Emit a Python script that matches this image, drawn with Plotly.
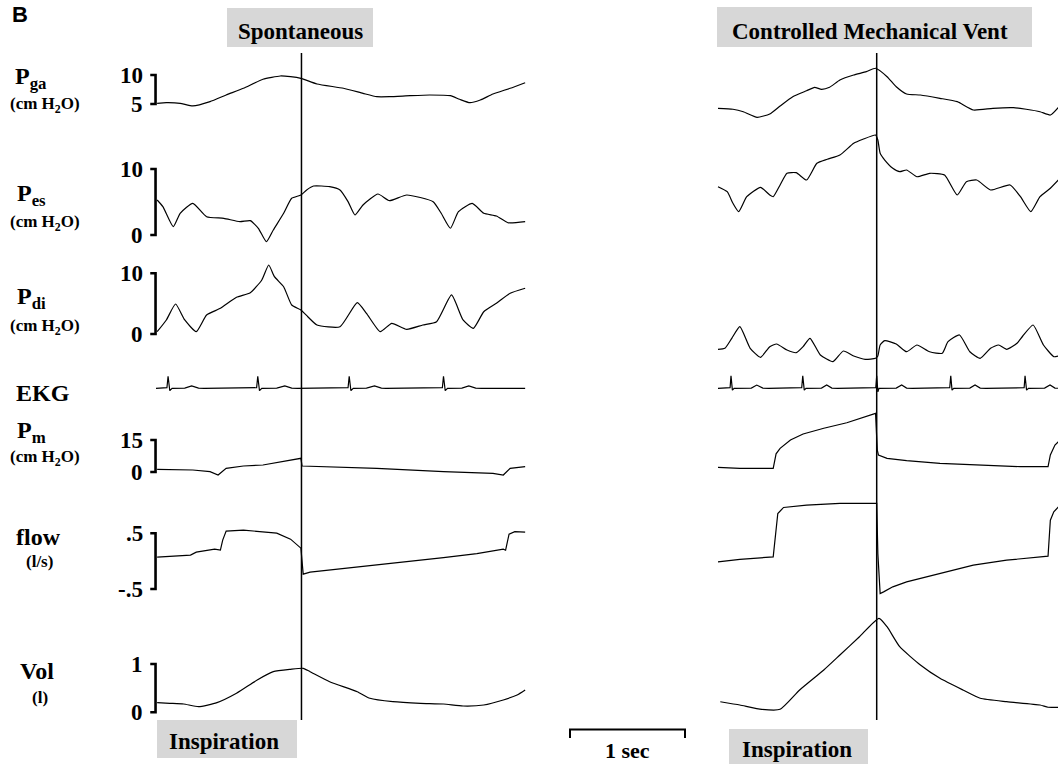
import plotly.graph_objects as go

W, H = 1058, 764

# ---------------- recorded traces (time in s, values in channel units) ----------------
# Spontaneous breathing
spont_pga_t = [0.01, 0.09, 0.21, 0.32, 0.47, 0.61, 0.76, 0.93, 1.08, 1.17, 1.26, 1.40, 1.63, 1.80,
               1.92, 2.03, 2.21, 2.38, 2.56, 2.64, 2.73, 2.82, 2.93, 3.08, 3.21]
spont_pga = [5.12, 5.22, 5.12, 4.66, 5.40, 6.55, 7.71, 9.26, 9.83, 9.71, 9.43, 8.45, 7.71, 6.84,
             6.26, 6.26, 6.43, 6.55, 6.43, 5.81, 5.22, 5.69, 6.72, 7.71, 8.67]

spont_pes_t = [0.01, 0.06, 0.15, 0.21, 0.32, 0.44, 0.59, 0.73, 0.82, 0.89, 0.96, 1.02, 1.11, 1.18,
               1.26, 1.31, 1.37, 1.51, 1.60, 1.67, 1.73, 1.80, 1.93, 2.03, 2.18, 2.41, 2.48, 2.56,
               2.63, 2.75, 2.85, 2.96, 3.06, 3.21]
spont_pes = [5.30, 4.29, 1.26, 3.29, 4.80, 2.77, 2.53, 2.02, 2.17, 1.02, -1.02, 0.76, 3.29, 5.56,
             6.06, 6.82, 7.42, 7.32, 6.82, 5.05, 3.03, 4.55, 6.21, 5.20, 6.06, 5.05, 3.29, 1.02,
             3.53, 4.80, 3.29, 2.88, 1.86, 2.02]

spont_pdi_t = [0.01, 0.09, 0.17, 0.25, 0.35, 0.44, 0.56, 0.70, 0.82, 0.92, 0.98, 1.03, 1.11, 1.18,
               1.26, 1.32, 1.40, 1.60, 1.75, 1.83, 1.95, 2.05, 2.18, 2.32, 2.44, 2.57, 2.67, 2.76,
               2.85, 2.96, 3.08, 3.21]
spont_pdi = [0.38, 2.31, 4.94, 2.31, 0.38, 3.13, 4.23, 6.05, 6.80, 8.90, 11.37, 9.44, 7.79, 4.78,
             3.95, 2.85, 1.48, 1.20, 5.16, 3.41, 0.38, 1.76, 0.77, 1.48, 2.03, 6.43, 2.31, 0.94,
             3.67, 5.06, 6.71, 7.53]

spont_ekg_t = [0.00, 0.08, 0.095, 0.105, 0.12, 0.14, 0.25, 0.31, 0.37, 0.42,
               0.86, 0.875, 0.885, 0.90, 0.92, 1.05, 1.12, 1.18, 1.23,
               1.66, 1.67, 1.68, 1.695, 1.715, 1.83, 1.90, 1.96, 2.00,
               2.48, 2.49, 2.50, 2.515, 2.535, 2.66, 2.72, 2.78, 2.83, 3.21]
spont_ekg = [0.0, 0.0, 0.05, 1.0, -0.2, 0.0, 0.02, 0.2, 0.02, 0.0,
             0.0, 0.05, 1.0, -0.2, 0.0, 0.02, 0.2, 0.02, 0.0,
             0.0, 0.05, 1.0, -0.2, 0.0, 0.02, 0.2, 0.02, 0.0,
             0.0, 0.05, 1.0, -0.2, 0.0, 0.02, 0.2, 0.02, 0.0, 0.0]

spont_pm_t = [0.01, 0.32, 0.47, 0.54, 0.61, 0.76, 0.93, 1.11, 1.26, 1.27, 1.48, 1.92, 2.50, 2.93,
              3.02, 3.08, 3.21]
spont_pm = [1.27, 0.94, 0.14, -1.41, 1.73, 2.81, 3.28, 4.83, 6.42, 2.81, 2.48, 1.73, 0.14, -0.61,
            -1.41, 1.73, 2.48]

spont_flow_t = [0.01, 0.18, 0.30, 0.35, 0.51, 0.56, 0.58, 0.61, 0.76, 1.05, 1.17, 1.26, 1.28, 1.34,
                1.63, 1.92, 2.21, 2.50, 2.79, 3.02, 3.04, 3.07, 3.12, 3.21]
spont_flow = [0.072, 0.090, 0.108, 0.162, 0.215, 0.197, 0.377, 0.539, 0.557, 0.503, 0.395, 0.233,
              -0.233, -0.197, -0.135, -0.063, 0.0, 0.063, 0.135, 0.215, 0.197, 0.485, 0.530, 0.521]

spont_vol_t = [0.01, 0.12, 0.24, 0.37, 0.53, 0.70, 0.88, 1.02, 1.17, 1.28, 1.34, 1.51, 1.75, 1.86,
               2.06, 2.30, 2.50, 2.67, 2.85, 3.02, 3.14, 3.21]
spont_vol = [0.199, 0.186, 0.172, 0.116, 0.199, 0.393, 0.669, 0.841, 0.890, 0.911, 0.841, 0.634,
             0.427, 0.290, 0.219, 0.186, 0.172, 0.130, 0.151, 0.255, 0.358, 0.462]

# Controlled mechanical ventilation
cmv_pga_t = [0.00, 0.13, 0.22, 0.34, 0.45, 0.54, 0.65, 0.77, 0.84, 0.90, 0.97, 1.06, 1.18, 1.29,
             1.37, 1.47, 1.55, 1.64, 1.76, 1.93, 2.08, 2.22, 2.39, 2.57, 2.68, 2.80, 2.89, 2.96]
cmv_pga = [4.26, 4.09, 3.67, 2.71, 3.28, 4.66, 6.26, 7.29, 7.88, 7.53, 7.88, 9.14, 10.0, 10.57,
           11.16, 9.71, 7.98, 6.72, 6.55, 5.98, 5.40, 3.97, 4.26, 4.36, 4.09, 3.67, 3.10, 4.43]

cmv_pes_t = [0.00, 0.08, 0.13, 0.18, 0.25, 0.37, 0.45, 0.48, 0.54, 0.60, 0.68, 0.77, 0.86, 0.95,
             1.06, 1.18, 1.26, 1.37, 1.39, 1.41, 1.45, 1.52, 1.58, 1.64, 1.73, 1.84, 1.97, 2.08,
             2.16, 2.25, 2.37, 2.54, 2.63, 2.72, 2.80, 2.89, 2.96]
cmv_pes = [7.32, 6.56, 4.80, 3.53, 5.80, 7.23, 6.06, 5.80, 7.58, 9.35, 9.44, 8.33, 10.86, 11.47,
           12.12, 13.89, 14.50, 15.15, 14.39, 12.38, 11.36, 10.11, 9.59, 9.85, 8.83, 9.35, 9.09,
           6.06, 8.08, 8.33, 6.82, 7.58, 5.80, 3.53, 5.80, 7.08, 8.33]

cmv_pdi_t = [0.00, 0.06, 0.12, 0.19, 0.28, 0.37, 0.45, 0.51, 0.60, 0.68, 0.74, 0.80, 0.89, 1.00,
             1.09, 1.18, 1.28, 1.37, 1.39, 1.41, 1.45, 1.55, 1.64, 1.73, 1.84, 1.95, 2.00, 2.10,
             2.19, 2.28, 2.37, 2.44, 2.51, 2.60, 2.65, 2.74, 2.83, 2.92, 2.96]
cmv_pdi = [-2.52, -2.36, -0.71, 1.20, -2.36, -3.84, -2.09, -1.65, -2.64, -3.08, -2.09, -0.71,
           -3.46, -4.56, -2.80, -3.62, -4.17, -4.00, -3.62, -1.81, -1.10, -1.65, -2.92, -1.81,
           -2.92, -3.18, -1.27, -0.16, -2.92, -4.00, -2.36, -1.81, -2.52, -1.53, -0.33, 1.48,
           -1.81, -3.74, -3.62]

cmv_ekg_t = [0.00, 0.095, 0.105, 0.113, 0.125, 0.14, 0.29, 0.337, 0.39, 0.44,
             0.72, 0.728, 0.737, 0.75, 0.765, 0.90, 0.945, 0.99, 1.04,
             1.365, 1.372, 1.38, 1.39, 1.40, 1.55, 1.597, 1.64, 1.69,
             2.005, 2.015, 2.024, 2.035, 2.05, 2.19, 2.235, 2.28, 2.33,
             2.655, 2.662, 2.67, 2.683, 2.70, 2.84, 2.887, 2.93, 2.96]
cmv_ekg = [0.0, 0.0, 0.05, 1.05, -0.15, 0.0, 0.02, 0.27, 0.02, 0.0,
           0.0, 0.05, 1.05, -0.15, 0.0, 0.02, 0.27, 0.02, 0.0,
           0.0, 0.05, 1.05, -0.3, 0.0, 0.02, 0.27, 0.02, 0.0,
           0.0, 0.05, 1.05, -0.15, 0.0, 0.02, 0.27, 0.02, 0.0,
           0.0, 0.05, 1.05, -0.15, 0.0, 0.02, 0.27, 0.02, 0.0]

cmv_pm_t = [0.00, 0.19, 0.48, 0.50, 0.505, 0.54, 0.63, 0.74, 0.92, 1.12, 1.35, 1.37, 1.385, 1.395,
            1.47, 1.64, 1.93, 2.22, 2.63, 2.87, 2.89, 2.93, 2.96]
cmv_pm = [2.20, 1.73, 1.73, 6.42, 8.5, 11.11, 15.0, 17.8, 20.5, 23.1, 27.2, 27.5, 10.3, 7.97,
          6.42, 5.30, 4.08, 3.28, 2.48, 2.48, 7.97, 12.66, 14.2]

cmv_flow_t = [0.00, 0.19, 0.48, 0.50, 0.52, 0.57, 0.77, 1.06, 1.37, 1.38, 1.39, 1.41, 1.44, 1.52,
              1.64, 1.93, 2.22, 2.51, 2.87, 2.89, 2.92, 2.96]
cmv_flow = [-0.013, 0.031, 0.077, 0.436, 0.856, 0.964, 1.005, 1.036, 1.047, 1.036, 0.138, -0.580,
            -0.551, -0.461, -0.372, -0.221, -0.072, 0.018, 0.090, 0.736, 0.885, 0.975]

cmv_vol_t = [0.02, 0.19, 0.38, 0.54, 0.71, 0.92, 1.06, 1.23, 1.40, 1.47, 1.58, 1.76, 1.93, 2.13,
             2.28, 2.51, 2.80, 2.87, 2.96]
cmv_vol = [0.219, 0.151, 0.062, 0.062, 0.462, 0.876, 1.186, 1.565, 1.946, 1.772, 1.358, 0.979,
           0.704, 0.462, 0.290, 0.219, 0.151, 0.104, 0.104]

# end of inspiration marker for each mode (s)
insp_end = [1.265, 1.38]
scale_bar_s = 1.0

# ---------------- channel definitions ----------------
channel_names = ["Pga", "Pes", "Pdi", "EKG", "Pm", "flow", "Vol"]
channel_labels = ["P<sub>ga</sub>", "P<sub>es</sub>", "P<sub>di</sub>", "EKG",
                  "P<sub>m</sub>", "flow", "Vol"]
channel_units = ["(cm H<sub>2</sub>O)", "(cm H<sub>2</sub>O)", "(cm H<sub>2</sub>O)", "",
                 "(cm H<sub>2</sub>O)", "(l/s)", "(l)"]
scale_top = [10, 10, 10, 1, 15, 0.5, 1]
scale_bottom = [5, 0, 0, 0, 0, -0.5, 0]
scale_top_text = ["10", "10", "10", None, "15", ".5", "1"]
scale_bottom_text = ["5", "0", "0", None, "0", "-.5", "0"]
# smoothly varying pressure / volume signals are drawn as splines
smooth = [True, True, True, False, False, False, True]

spont = [(spont_pga_t, spont_pga), (spont_pes_t, spont_pes), (spont_pdi_t, spont_pdi),
         (spont_ekg_t, spont_ekg), (spont_pm_t, spont_pm), (spont_flow_t, spont_flow),
         (spont_vol_t, spont_vol)]
cmv = [(cmv_pga_t, cmv_pga), (cmv_pes_t, cmv_pes), (cmv_pdi_t, cmv_pdi),
       (cmv_ekg_t, cmv_ekg), (cmv_pm_t, cmv_pm), (cmv_flow_t, cmv_flow),
       (cmv_vol_t, cmv_vol)]

# ---------------- page geometry (pixels) ----------------
PX_PER_S = 115.0
# pixel rows of the top / bottom scale marks, and the band reserved for each strip
tick_px = [(75, 104), (169, 235), (273.3, 334), (376.3, 388.3), (440, 472), (533.3, 589),
           (664, 712.3)]
band_px = [(55, 125), (126, 250), (251, 368), (369, 400), (401, 490), (491, 600), (601, 718)]
label_px = [(31, 78), (31, 195), (31, 298), (43, 393), (31, 432), (38, 537), (37, 671)]
unit_px = [(45, 105), (45, 223), (45, 327), None, (45, 458), (39, 561), (40, 697)]

SERIF = "Liberation Serif, Times New Roman, serif"


def px2paper_x(px):
    return px / W


def px2paper_y(py):
    return 1 - py / H


fig = go.Figure()

left_x0, left_x1, left_t0 = 100, 526, 156
right_x0, right_x1, right_t0 = 560, 1058, 718
layout = dict(
    xaxis=dict(domain=[px2paper_x(left_x0), px2paper_x(left_x1)],
               range=[-(left_t0 - left_x0) / PX_PER_S, (left_x1 - left_t0) / PX_PER_S],
               visible=False, fixedrange=True),
    xaxis2=dict(domain=[px2paper_x(right_x0), px2paper_x(right_x1)],
                range=[-(right_t0 - right_x0) / PX_PER_S, (right_x1 - right_t0) / PX_PER_S],
                visible=False, fixedrange=True),
)

shapes = []
annotations = []
for i, name in enumerate(channel_names):
    yid = "y" if i == 0 else f"y{i + 1}"
    pt, pb = tick_px[i]
    b0, b1 = band_px[i]
    k = (pb - pt) / (scale_top[i] - scale_bottom[i])
    hi = scale_top[i] + (pt - b0) / k
    lo = scale_bottom[i] - (b1 - pb) / k
    layout["yaxis" if i == 0 else f"yaxis{i + 1}"] = dict(
        domain=[px2paper_y(b1), px2paper_y(b0)], range=[lo, hi],
        visible=False, fixedrange=True, anchor="x")

    line_style = dict(color="black", width=1.2)
    if smooth[i]:
        line_style.update(shape="spline", smoothing=0.5)
    for xid, (t, v) in (("x", spont[i]), ("x2", cmv[i])):
        fig.add_trace(go.Scatter(x=t, y=v, xaxis=xid, yaxis=yid, mode="lines",
                                 line=line_style, hoverinfo="skip",
                                 showlegend=False, name=name))

    # calibration bracket and its values
    if scale_top_text[i] is not None:
        bx = -0.004
        tx = -0.05
        shapes.append(dict(
            type="path", xref="x", yref=yid,
            path=f"M {tx},{scale_top[i]} L {bx},{scale_top[i]} L {bx},{scale_bottom[i]} "
                 f"L {tx},{scale_bottom[i]}",
            line=dict(color="black", width=2.6)))
        for val, txt in ((scale_top[i], scale_top_text[i]),
                         (scale_bottom[i], scale_bottom_text[i])):
            annotations.append(dict(
                x=-0.1, y=val, xref="x", yref=yid, text=f"<b>{txt}</b>",
                showarrow=False, xanchor="right", yanchor="middle",
                font=dict(family=SERIF, size=23, color="black")))

    lx, ly = label_px[i]
    annotations.append(dict(
        x=px2paper_x(lx), y=px2paper_y(ly), xref="paper", yref="paper",
        text=f"<b>{channel_labels[i]}</b>", showarrow=False,
        xanchor="center", yanchor="middle",
        font=dict(family=SERIF, size=24, color="black")))
    if unit_px[i] is not None:
        ux, uy = unit_px[i]
        annotations.append(dict(
            x=px2paper_x(ux), y=px2paper_y(uy), xref="paper", yref="paper",
            text=f"<b>{channel_units[i]}</b>", showarrow=False,
            xanchor="center", yanchor="middle",
            font=dict(family=SERIF, size=17, color="black")))

# end-of-inspiration markers
for xid, t in zip(("x", "x2"), insp_end):
    shapes.append(dict(type="line", xref=xid, yref="paper", x0=t, x1=t,
                       y0=px2paper_y(720), y1=px2paper_y(53),
                       line=dict(color="black", width=1.5)))

# time calibration bar
bar_t0 = (570 - right_t0) / PX_PER_S
y_bar, y_end = px2paper_y(729.5), px2paper_y(738)
shapes.append(dict(
    type="path", xref="x2", yref="paper",
    path=f"M {bar_t0},{y_end} L {bar_t0},{y_bar} L {bar_t0 + scale_bar_s},{y_bar} "
         f"L {bar_t0 + scale_bar_s},{y_end}",
    line=dict(color="black", width=2)))
annotations.append(dict(
    x=bar_t0 + scale_bar_s / 2, y=px2paper_y(750), xref="x2", yref="paper",
    text="<b>1 sec</b>", showarrow=False, xanchor="center", yanchor="middle",
    font=dict(family=SERIF, size=22, color="black")))

# shaded captions
captions = [
    ("Spontaneous", (227, 8, 373, 47), (300, 31)),
    ("Controlled Mechanical Vent", (717, 7, 1032, 47), (870, 31)),
    ("Inspiration", (157, 720, 297, 758), (224, 741)),
    ("Inspiration", (729, 729, 868, 764), (797, 749)),
]
for text, (x0, y0, x1, y1), (cx, cy) in captions:
    shapes.append(dict(type="rect", xref="paper", yref="paper",
                       x0=px2paper_x(x0), x1=px2paper_x(x1),
                       y0=px2paper_y(y1), y1=px2paper_y(y0),
                       fillcolor="#d7d7d7", line=dict(width=0), layer="below"))
    annotations.append(dict(
        x=px2paper_x(cx), y=px2paper_y(cy), xref="paper", yref="paper",
        text=f"<b>{text}</b>", showarrow=False, xanchor="center", yanchor="middle",
        font=dict(family=SERIF, size=23, color="black")))

annotations.append(dict(
    x=px2paper_x(10), y=px2paper_y(15), xref="paper", yref="paper",
    text="<b>B</b>", showarrow=False, xanchor="left", yanchor="middle",
    font=dict(family="Liberation Sans, Arial, sans-serif", size=22, color="black")))

fig.update_layout(
    **layout,
    width=W, height=H,
    margin=dict(l=0, r=0, t=0, b=0),
    paper_bgcolor="white", plot_bgcolor="rgba(0,0,0,0)",
    shapes=shapes, annotations=annotations,
    showlegend=False,
)

fig.write_html("out.html", config={"displayModeBar": False, "staticPlot": True})
